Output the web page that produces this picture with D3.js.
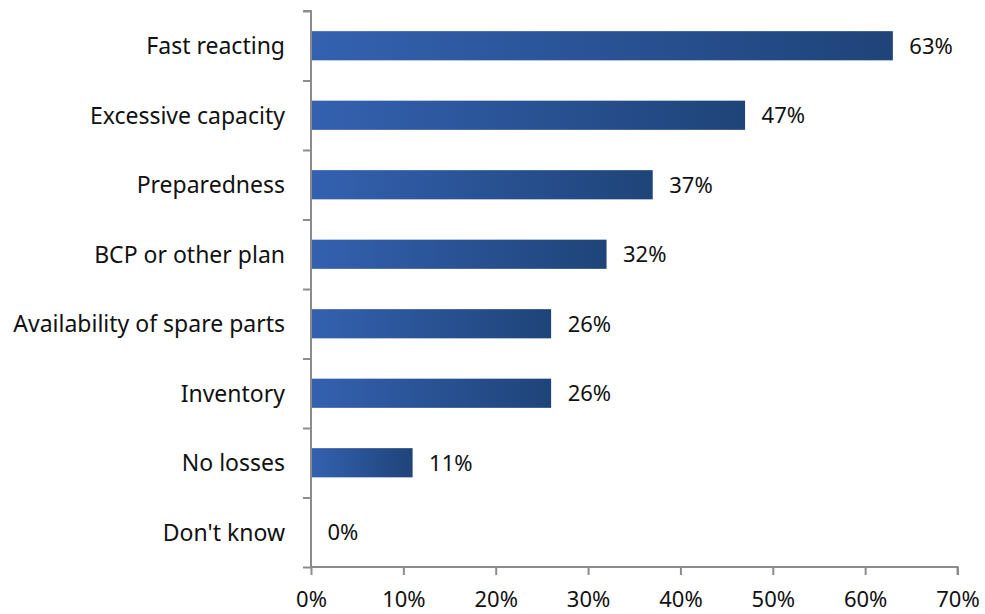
<!DOCTYPE html>
<html>
<head>
<meta charset="utf-8">
<script src="https://cdn.jsdelivr.net/npm/d3@7"></script>
<style>
  html, body { margin: 0; padding: 0; background: #fff; }
  svg text { font-family: "Noto Sans", sans-serif; fill: #111; }
</style>
</head>
<body>
<svg id="chart" width="985" height="614"></svg>
<script>
const categories = ["Fast reacting", "Excessive capacity", "Preparedness", "BCP or other plan",
  "Availability of spare parts", "Inventory", "No losses", "Don't know"];
const values = [63, 47, 37, 32, 26, 26, 11, 0];
const xTicks = [0, 10, 20, 30, 40, 50, 60, 70];

const svg = d3.select("#chart");
const plotLeft = 311, plotRight = 957.5, plotTop = 11, plotBottom = 567;
const labelSize = 23, numberSize = 22;

const x = d3.scaleLinear().domain([0, 70]).range([plotLeft, plotRight]);
const y = d3.scaleBand().domain(categories).range([plotTop, plotBottom]).paddingInner(0.58).paddingOuter(0.29);

// horizontal gradient applied to each bar individually
const defs = svg.append("defs");
const grad = defs.append("linearGradient").attr("id", "barGrad")
  .attr("x1", "0%").attr("x2", "100%").attr("y1", "0%").attr("y2", "0%");
grad.append("stop").attr("offset", "0%").attr("stop-color", "#3461b0");
grad.append("stop").attr("offset", "100%").attr("stop-color", "#1f4479");

svg.append("g").selectAll("rect")
  .data(values)
  .join("rect")
  .attr("x", x(0))
  .attr("y", (d, i) => y(categories[i]))
  .attr("width", d => x(d) - x(0))
  .attr("height", y.bandwidth())
  .attr("fill", "url(#barGrad)");

// value labels
svg.append("g").selectAll("text")
  .data(values)
  .join("text")
  .attr("x", d => x(d) + 16.5)
  .attr("y", (d, i) => y(categories[i]) + y.bandwidth() / 2)
  .attr("dy", "0.36em")
  .attr("font-size", numberSize)
  .text(d => d + "%");

// category axis
const yAxis = d3.axisLeft(d3.scaleLinear().domain([0, categories.length]).range([plotTop, plotBottom]))
  .tickValues(d3.range(categories.length + 1)).tickSize(8).tickFormat("");
const gy = svg.append("g").attr("transform", `translate(${plotLeft},0)`).call(yAxis);
gy.selectAll("path, line").attr("stroke", "#8c8c8c").attr("stroke-width", 2);
gy.select(".domain").attr("d", `M-8,${plotTop}H0V${plotBottom}`);

svg.append("g").selectAll("text")
  .data(categories)
  .join("text")
  .attr("x", 285)
  .attr("y", d => y(d) + y.bandwidth() / 2)
  .attr("dy", "0.36em")
  .attr("text-anchor", "end")
  .attr("font-size", labelSize)
  .text(d => d);

// value axis
const xAxis = d3.axisBottom(x).tickValues(xTicks).tickSize(8).tickFormat(d => d + "%");
const gx = svg.append("g").attr("transform", `translate(0,${plotBottom})`).call(xAxis);
gx.selectAll("path, line").attr("stroke", "#8c8c8c").attr("stroke-width", 2);
gx.select(".domain").attr("d", `M${plotLeft},0H${plotRight}V8`);
gx.selectAll("text")
  .attr("y", 40).attr("dy", 0)
  .attr("font-size", numberSize)
  .style("font-family", "'Noto Sans', sans-serif").attr("fill", "#111");
</script>
</body>
</html>
